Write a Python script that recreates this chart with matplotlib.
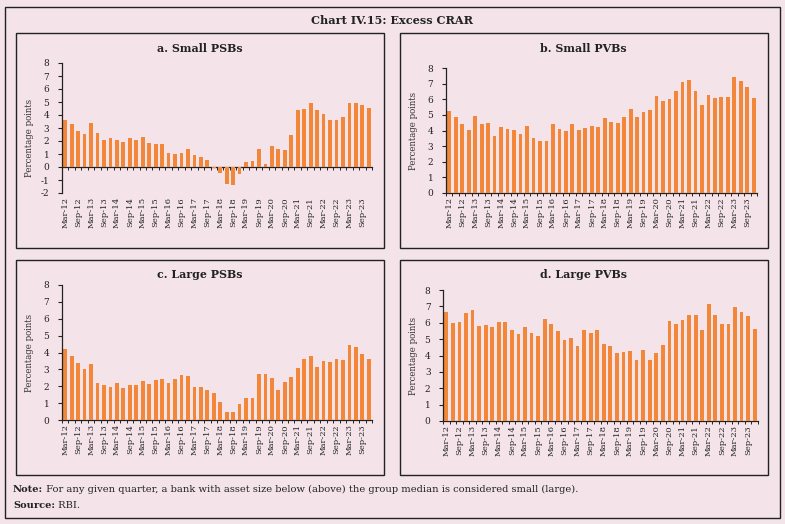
import matplotlib
matplotlib.use("Agg")
import matplotlib.pyplot as plt
from matplotlib.patches import Rectangle
import numpy as np

plt.rcParams["axes.unicode_minus"] = False

W, H = 785, 524
BG = "#F4E4EA"
BAR = "#F2873A"
FONT = "DejaVu Serif"

quarters = []
for yr in range(12, 24):
    for m in ["Mar", "Jun", "Sep", "Dec"]:
        quarters.append(f"{m}-{yr}")

small_psb = [3.65, 3.3, 2.8, 2.55, 3.4, 2.6, 2.1, 2.2, 2.05, 1.9, 2.2, 2.1,
             2.3, 1.85, 1.75, 1.75, 1.05, 1.0, 1.05, 1.4, 0.95, 0.75, 0.55, -0.05,
             -0.45, -1.3, -1.35, -0.55, 0.4, 0.45, 1.4, 0.25, 1.6, 1.4, 1.3, 2.5,
             4.35, 4.45, 4.95, 4.4, 4.05, 3.65, 3.65, 3.85, 4.9, 4.95, 4.8, 4.55]
small_pvb = [5.25, 4.85, 4.4, 4.05, 4.9, 4.4, 4.45, 3.65, 4.2, 4.1, 4.05, 3.75,
             4.3, 3.5, 3.35, 3.35, 4.4, 4.1, 4.0, 4.4, 4.05, 4.15, 4.3, 4.2,
             4.8, 4.55, 4.45, 4.85, 5.35, 4.85, 5.2, 5.3, 6.2, 5.9, 6.0, 6.55,
             7.1, 7.25, 6.5, 5.65, 6.3, 6.1, 6.15, 6.15, 7.4, 7.2, 6.8, 6.1]
large_psb = [4.2, 3.8, 3.35, 3.05, 3.3, 2.2, 2.05, 1.95, 2.2, 1.9, 2.1, 2.05,
             2.3, 2.15, 2.4, 2.45, 2.2, 2.45, 2.65, 2.6, 1.95, 1.95, 1.8, 1.6,
             1.05, 0.5, 0.5, 0.95, 1.3, 1.3, 2.75, 2.75, 2.5, 1.8, 2.25, 2.55,
             3.1, 3.6, 3.8, 3.15, 3.5, 3.45, 3.6, 3.55, 4.45, 4.3, 3.9, 3.6]
large_pvb = [6.65, 6.0, 6.05, 6.6, 6.75, 5.8, 5.85, 5.75, 6.05, 6.05, 5.55, 5.3,
             5.75, 5.4, 5.2, 6.2, 5.9, 5.5, 4.95, 5.05, 4.6, 5.55, 5.4, 5.55,
             4.7, 4.55, 4.15, 4.2, 4.25, 3.7, 4.35, 3.7, 4.15, 4.65, 6.1, 5.95,
             6.15, 6.45, 6.5, 5.55, 7.15, 6.45, 5.9, 5.95, 6.95, 6.65, 6.4, 5.6]

panel_titles = ["a. Small PSBs", "b. Small PVBs", "c. Large PSBs", "d. Large PVBs"]
y_label = "Percentage points"
chart_title = "Chart IV.15: Excess CRAR"
note_head = "Note:"
note_body = " For any given quarter, a bank with asset size below (above) the group median is considered small (large)."
source_head = "Source:"
source_body = " RBI."

fig = plt.figure(figsize=(W / 100, H / 100), dpi=100)
fig.patch.set_facecolor(BG)

def fx(x):
    return x / W

def fy(y):
    return 1 - y / H

def rect(x0, y0, x1, y1, lw=1.0):
    fig.patches.append(Rectangle((fx(x0), fy(y1)), fx(x1 - x0), (y1 - y0) / H,
                                 transform=fig.transFigure, fill=False,
                                 edgecolor="#222222", linewidth=lw))

rect(5, 7, 780, 518, lw=1.0)
rect(16, 33, 384, 248)
rect(400, 33, 768, 248)
rect(16, 260, 384, 475)
rect(400, 260, 768, 475)

fig.text(fx(392), fy(20), chart_title, ha="center", va="center",
         fontsize=8.1, fontweight="bold", family=FONT, color="#222222")

renderer = fig.canvas.get_renderer()
for head, body, yy in [(note_head, note_body, 492), (source_head, source_body, 508)]:
    th = fig.text(fx(13), fy(yy), head, ha="left", va="baseline", fontsize=7.1,
                  fontweight="bold", family=FONT, color="#222222")
    bb = th.get_window_extent(renderer=renderer)
    fig.text(bb.x1 / (fig.dpi * fig.get_figwidth()), fy(yy), body, ha="left",
             va="baseline", fontsize=7.1, family=FONT, color="#222222")

# (data, left, top, right, bottom, ymin, title_y, title_x, ylabel_x)
panels = [
    (small_psb, 62, 63, 372, 193, -2, 48, 200, 30),
    (small_pvb, 446, 68, 757, 193, 0, 48, 583, 413),
    (large_psb, 62, 285, 372, 420, 0, 274, 200, 30),
    (large_pvb, 443, 290, 758, 421, 0, 274, 584, 413),
]

x = np.arange(len(quarters))
for (vals, l, t, r, b, ymin, ty, tx, ylx), title in zip(panels, panel_titles):
    ax = fig.add_axes([fx(l), fy(b), fx(r - l), (b - t) / H])
    ax.set_facecolor("none")
    ax.bar(x, vals, width=0.58, color=BAR, zorder=2)
    ax.set_xlim(-0.5, len(quarters) - 0.5)
    ax.set_ylim(ymin, 8)
    ax.set_yticks(range(ymin, 9))
    ax.tick_params(axis="y", direction="out", length=3, width=0.8,
                   labelsize=6.5, pad=6, colors="#222222")
    for lab in ax.get_yticklabels():
        lab.set_family(FONT)
    for s in ["top", "right", "bottom"]:
        ax.spines[s].set_visible(False)
    ax.spines["left"].set_linewidth(0.9)
    ax.spines["left"].set_color("#222222")
    ax.set_xticks(x[::2])
    ax.set_xticklabels(quarters[::2], rotation=90, fontsize=6.0, family=FONT,
                       color="#222222")
    ax.tick_params(axis="x", length=0, pad=3)
    zero_pos = (0 - ymin) / (8 - ymin)
    sec = ax.secondary_xaxis(zero_pos)
    sec.set_xticks(np.arange(-0.5, len(quarters), 1.0))
    sec.tick_params(axis="x", direction="out", length=2.5, width=0.7,
                    labelbottom=False, colors="#222222")
    sec.spines["bottom"].set_linewidth(0.9)
    sec.spines["bottom"].set_color("#222222")
    fig.text(fx(tx), fy(ty), title, ha="center", va="center", fontsize=7.9,
             fontweight="bold", family=FONT, color="#222222")
    fig.text(fx(ylx), fy((t + b) / 2 + (10 if ymin < 0 else 0)), y_label,
             rotation=90, ha="center", va="center", fontsize=6.2,
             family=FONT, color="#333333")

fig.savefig("out.png", dpi=100, facecolor=BG)
